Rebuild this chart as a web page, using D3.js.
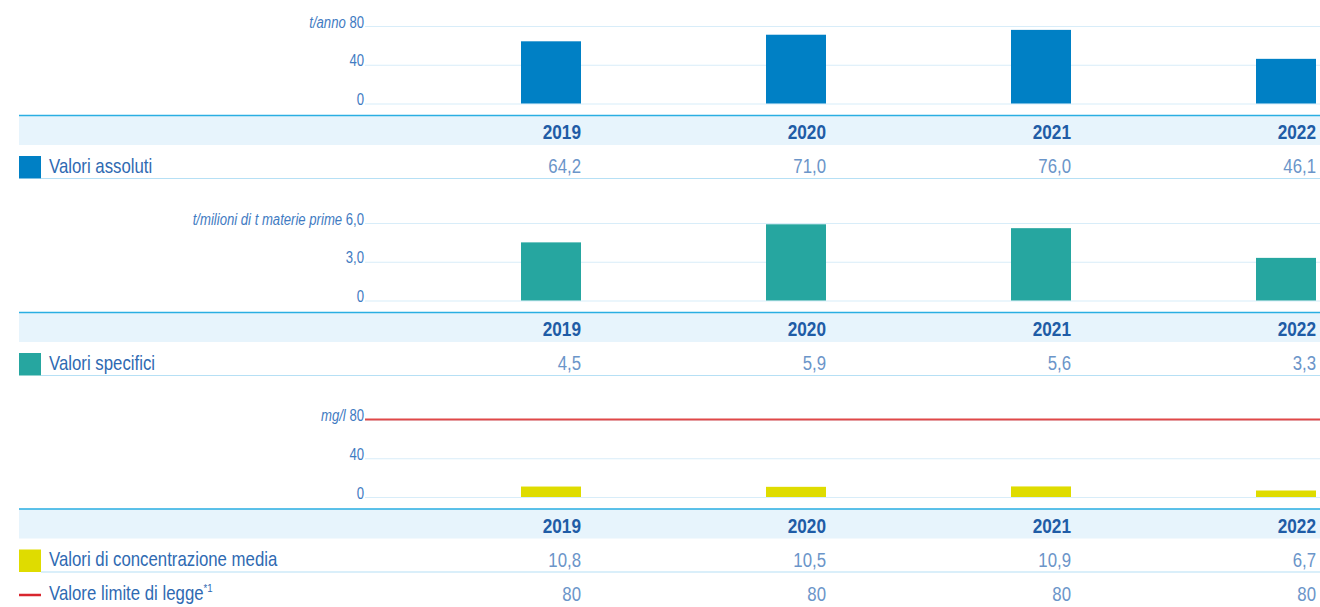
<!DOCTYPE html>
<html>
<head>
<meta charset="utf-8">
<script src="https://cdn.jsdelivr.net/npm/d3@7"></script>
<style>
  html, body { margin: 0; padding: 0; background: #ffffff; }
  svg { display: block; }
  text { font-family: 'Liberation Sans', Arial, sans-serif; }
</style>
</head>
<body>
<svg id="chart" width="1320" height="607"></svg>
<script>
// Years shown in every panel
const years = ["2019", "2020", "2021", "2022"];

// Panel 1: absolute values (t/anno)
const absoluteValues = [64.2, 71.0, 76.0, 46.1];
const absoluteTicks = [0, 40, 80];
const absoluteTickLabels = ["0", "40", "80"];

// Panel 2: specific values (t/milioni di t materie prime)
const specificValues = [4.5, 5.9, 5.6, 3.3];
const specificTicks = [0, 3, 6];
const specificTickLabels = ["0", "3,0", "6,0"];

// Panel 3: mean concentration (mg/l) and legal limit
const concentrationValues = [10.8, 10.5, 10.9, 6.7];
const limitValues = [80, 80, 80, 80];
const concentrationTicks = [0, 40, 80];
const concentrationTickLabels = ["0", "40", "80"];

const it = d3.formatLocale({ decimal: ",", thousands: ".", grouping: [3], currency: ["", " €"] });
const fmt1 = it.format(".1f");
const fmt0 = it.format(".0f");

const W = 1320;
const plotLeft = 365, plotRight = 1320;
const tableLeft = 19;
const barWidth = 60;
const NARROW = 0.82;      // horizontal squeeze for numbers and ticks
const NARROW_LABEL = 0.84; // squeeze for row labels

const C = {
  grid: "#d8edf9",
  band: "#e7f4fc",
  bandLine: "#2aaee2",
  rowLine: "#b6e0f5",
  tick: "#3f7bc2",
  year: "#1f5ca6",
  value: "#6b95c9",
  label: "#2f6ab2"
};

// place text at (x, y) drawn with a condensed width
function place(sel, fx, fy, k = NARROW) {
  return sel.attr("transform", (d, i) => {
    const xx = typeof fx === "function" ? fx(d, i) : fx;
    const yy = typeof fy === "function" ? fy(d, i) : fy;
    return `translate(${xx},${yy}) scale(${k},1)`;
  });
}

const svg = d3.select("#chart");

const x = d3.scaleBand().domain(years).range([336, 1316]).paddingInner(0).paddingOuter(0);

const panels = [
  {
    top: 0, unit: "t/anno", domain: [0, 80], ticks: absoluteTicks, tickLabels: absoluteTickLabels,
    values: absoluteValues, color: "#0080c5", label: "Valori assoluti", fmt: fmt1
  },
  {
    top: 197, unit: "t/milioni di t materie prime", domain: [0, 6], ticks: specificTicks, tickLabels: specificTickLabels,
    values: specificValues, color: "#26a6a0", label: "Valori specifici", fmt: fmt1
  },
  {
    top: 393.5, unit: "mg/l", domain: [0, 80], ticks: concentrationTicks, tickLabels: concentrationTickLabels,
    values: concentrationValues, color: "#dfdc00", label: "Valori di concentrazione media", fmt: fmt1,
    limit: { values: limitValues, color: "#e04848", legendColor: "#d8262e", label: "Valore limite di legge", sup: "*1" }
  }
];

panels.forEach(p => {
  const g = svg.append("g").attr("transform", `translate(0,${p.top})`);
  const y = d3.scaleLinear().domain(p.domain).range([103.5, 26]);

  // gridlines + tick labels
  const axis = d3.axisLeft(y)
    .tickValues(p.ticks)
    .tickSize(-(plotRight - plotLeft))
    .tickPadding(1)
    .tickFormat((d, i) => p.tickLabels[i]);

  const ax = g.append("g").attr("transform", `translate(${plotLeft},0)`).call(axis);
  ax.select(".domain").remove();
  ax.selectAll(".tick line").attr("stroke", C.grid).attr("stroke-width", 1.2);
  ax.selectAll(".tick text")
    .attr("fill", C.tick)
    .attr("font-size", 16)
    .attr("x", null)
    .attr("dy", null)
    .attr("text-anchor", "end")
    .attr("transform", `translate(-1,1) scale(${NARROW},1)`);

  // unit in front of the top tick label
  const topTick = ax.selectAll(".tick").filter(d => d === p.ticks[p.ticks.length - 1]).select("text");
  const num = topTick.text();
  topTick.text(null);
  topTick.append("tspan").attr("font-style", "italic").text(p.unit + " ");
  topTick.append("tspan").text(num);

  // legal limit line
  if (p.limit) {
    const lim = p.limit.values;
    const line = d3.line()
      .x((d, i) => i === 0 ? plotLeft : i === lim.length - 1 ? plotRight : x(years[i]) + x.bandwidth() - barWidth / 2)
      .y(d => y(d));
    g.append("path")
      .datum(lim)
      .attr("d", line)
      .attr("fill", "none")
      .attr("stroke", p.limit.color)
      .attr("stroke-width", 2);
  }

  // bars
  g.selectAll("rect.bar")
    .data(p.values)
    .join("rect")
    .attr("class", "bar")
    .attr("x", (d, i) => x(years[i]) + x.bandwidth() - barWidth)
    .attr("width", barWidth)
    .attr("y", d => y(d))
    .attr("height", d => y(0) - y(d))
    .attr("fill", p.color);

  // header band with years
  g.append("rect")
    .attr("x", tableLeft).attr("y", 115)
    .attr("width", W - tableLeft).attr("height", 30)
    .attr("fill", C.band);
  g.append("line")
    .attr("x1", tableLeft).attr("x2", W)
    .attr("y1", 115.5).attr("y2", 115.5)
    .attr("stroke", C.bandLine).attr("stroke-width", 1.5);

  g.selectAll("text.year")
    .data(years)
    .join("text")
    .attr("class", "year")
    .call(place, d => x(d) + x.bandwidth(), 139)
    .attr("text-anchor", "end")
    .attr("font-size", 21)
    .attr("font-weight", "bold")
    .attr("fill", C.year)
    .text(d => d);

  // value row
  g.append("rect")
    .attr("x", tableLeft).attr("y", 156)
    .attr("width", 22).attr("height", 22.5)
    .attr("fill", p.color);
  g.append("text")
    .call(place, 49, 172.5, NARROW_LABEL)
    .attr("font-size", 20)
    .attr("fill", C.label)
    .text(p.label);
  g.selectAll("text.val")
    .data(p.values)
    .join("text")
    .attr("class", "val")
    .call(place, (d, i) => x(years[i]) + x.bandwidth(), 173)
    .attr("text-anchor", "end")
    .attr("font-size", 20.5)
    .attr("fill", C.value)
    .text(d => p.fmt(d));
  g.append("line")
    .attr("x1", 41).attr("x2", W)
    .attr("y1", 178.5).attr("y2", 178.5)
    .attr("stroke", C.rowLine).attr("stroke-width", 1.2);

  // limit row
  if (p.limit) {
    g.append("line")
      .attr("x1", tableLeft).attr("x2", 41)
      .attr("y1", 201.5).attr("y2", 201.5)
      .attr("stroke", p.limit.legendColor).attr("stroke-width", 2.5);
    const t = g.append("text")
      .call(place, 49, 206.5, NARROW_LABEL)
      .attr("font-size", 20)
      .attr("fill", C.label);
    t.append("tspan").text(p.limit.label);
    t.append("tspan").attr("font-size", 11.5).attr("dy", -8).text(p.limit.sup);
    g.selectAll("text.lim")
      .data(p.limit.values)
      .join("text")
      .attr("class", "lim")
      .call(place, (d, i) => x(years[i]) + x.bandwidth(), 207)
      .attr("text-anchor", "end")
      .attr("font-size", 20.5)
      .attr("fill", C.value)
      .text(d => fmt0(d));
  }
});
</script>
</body>
</html>
